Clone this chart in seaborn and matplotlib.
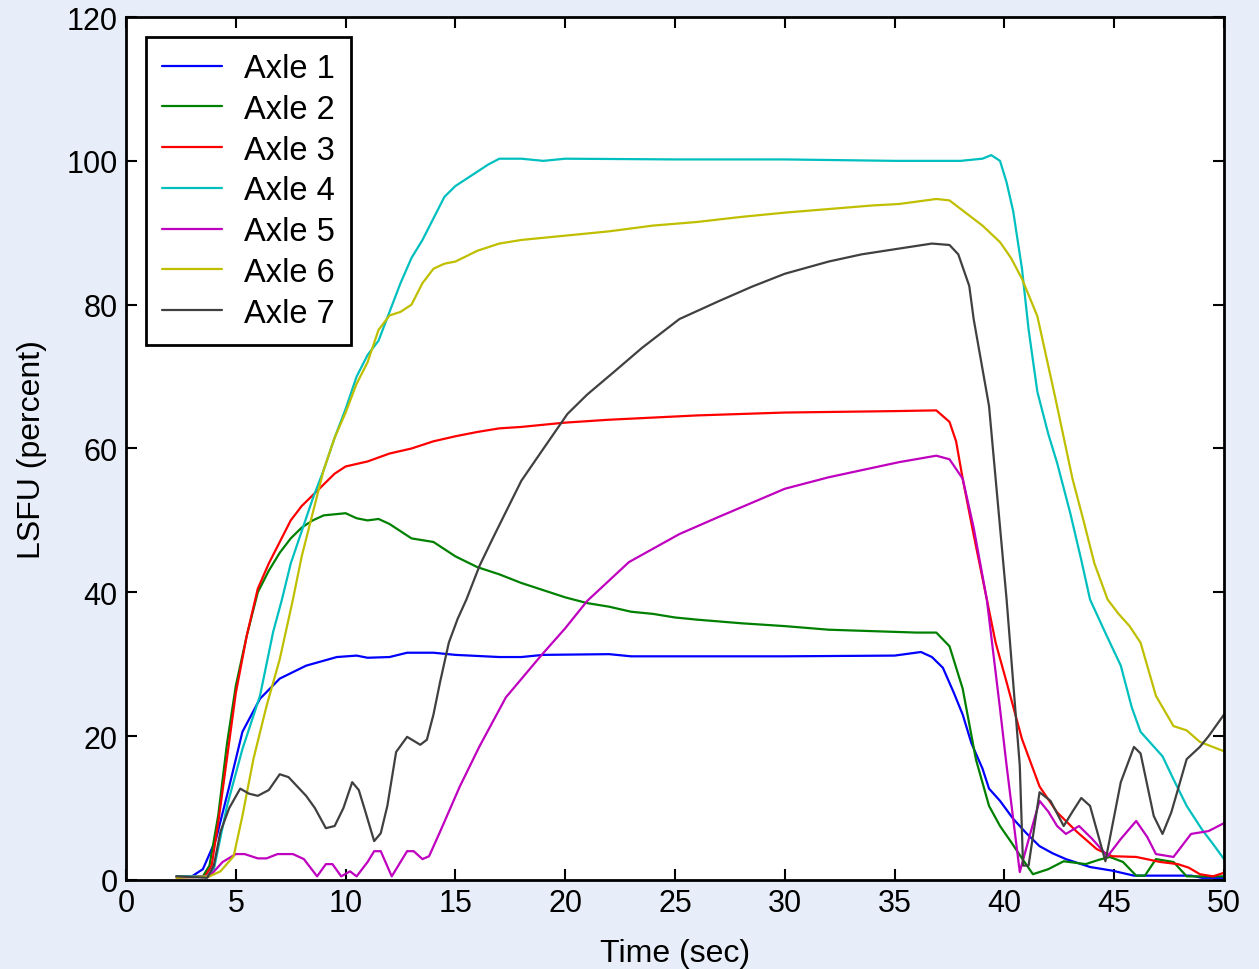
import pandas as pd
import numpy as np
import matplotlib
matplotlib.use("Agg")
import matplotlib.pyplot as plt
import seaborn as sns

# Axle LSFU traces
t1 = [2.3, 3.0, 3.5, 4.1, 4.7, 5.3, 6.1, 7.0, 8.2, 9.6, 10.5, 11.0, 12.0, 12.8, 14.0, 15.0, 17.0, 18.0, 19.0, 22.0, 23.0, 28.0, 30.0, 35.0, 36.2,
      36.7, 37.2, 37.7, 38.1, 38.5, 39.0, 39.3, 39.8, 40.4, 41.0, 41.6, 42.2, 42.8, 43.9, 44.9, 45.9, 47.0, 48.5, 49.0, 50.0]
v1 = [0.5, 0.5, 1.5, 5.7, 13, 20.6, 25.2, 28, 29.8, 31, 31.2, 30.9, 31.0, 31.6, 31.6, 31.3, 31.0, 31.0, 31.3, 31.4, 31.1, 31.1, 31.1, 31.2, 31.7,
      31.0, 29.5, 26, 23, 19, 15.5, 12.7, 11, 8.5, 6.5, 4.7, 3.7, 2.9, 1.8, 1.3, 0.6, 0.6, 0.6, 0.3, 0.3]

t2 = [2.3, 3.5, 3.8, 4.2, 4.6, 5.0, 5.5, 6.0, 6.5, 7.0, 7.5, 8.0, 8.5, 9.0, 10.0, 10.5, 11.0, 11.5, 12.0, 12.5, 13.0, 14.0, 15.0, 16.0,
      17.0, 18.0, 19.0, 20.0, 21.0, 22.0, 23.0, 24.0, 25.0, 26.0, 28.0, 30.0, 32.0, 34.0, 36.0, 36.9, 37.5, 38.1, 38.7, 39.3, 39.8, 40.3,
      40.8, 41.3, 42.0, 42.7, 43.7, 44.3, 44.8, 45.4, 46.0, 46.4, 46.9, 47.7, 48.3, 50.0]
v2 = [0.5, 0.5, 2, 9, 19, 27, 34, 40, 43, 45.5, 47.5, 49, 50, 50.7, 51, 50.3, 50, 50.2, 49.5, 48.5, 47.5, 47, 45, 43.5,
      42.5, 41.3, 40.3, 39.3, 38.5, 38, 37.3, 37, 36.5, 36.2, 35.7, 35.3, 34.8, 34.6, 34.4, 34.4, 32.5, 26.6, 16.8, 10.3, 7.5, 5.3,
      3, 0.8, 1.5, 2.6, 2.2, 2.8, 3.2, 2.5, 0.6, 0.6, 2.9, 2.5, 0.5, 0.5]

t3 = [2.3, 3.6, 3.9, 4.2, 4.6, 5.0, 5.5, 6.0, 6.5, 7.0, 7.5, 8.0, 8.5, 9.0, 9.5, 10.0, 11.0, 12.0, 13.0, 14.0, 15.0, 16.0, 17.0, 18.0,
      19.0, 20.0, 21.0, 22.0, 24.0, 26.0, 28.0, 30.0, 35.0, 36.9, 37.5, 37.8, 38.1, 38.6, 39.2, 39.6, 40.1, 40.8, 41.6, 42.4, 43.3, 44.2,
      44.9, 46.0, 47.1, 47.9, 48.4, 48.9, 49.5, 50.0]
v3 = [0.5, 0.5, 2, 8, 17, 26, 34, 40.5, 44, 47, 50, 52, 53.5, 55, 56.5, 57.5, 58.2, 59.3, 60, 61, 61.7, 62.3, 62.8, 63,
      63.3, 63.6, 63.8, 64, 64.3, 64.6, 64.8, 65, 65.2, 65.3, 63.7, 61, 55.8, 48, 39, 33, 27.5, 19.6, 13, 9.4, 6.7, 4.3,
      3.3, 3.2, 2.5, 2.2, 1.7, 0.8, 0.5, 1.0]

t4 = [2.3, 3.7, 4.0, 4.6, 5.3, 6.1, 6.7, 7.1, 7.5, 8.0, 8.5, 9.0, 9.5, 10.0, 10.5, 11.0, 11.5, 12.0, 12.5, 13.0, 13.5, 14.0, 14.5, 15.0,
      15.5, 16.0, 16.5, 17.0, 18.0, 19.0, 20.0, 25.0, 30.0, 35.0, 38.0, 39.0, 39.4, 39.8, 40.1, 40.4, 40.8, 41.1, 41.5, 42.0, 42.4, 43.0,
      43.5, 43.9, 44.5, 45.3, 45.8, 46.2, 47.2, 47.7, 48.3, 49.0, 49.5, 50.0]
v4 = [0.5, 0.5, 1.5, 10.3, 18.2, 25.6, 34.5, 39, 44, 48.5, 53, 57, 61.5, 65.5, 70, 73, 75, 79, 83, 86.5, 89, 92, 95, 96.5,
      97.5, 98.5, 99.5, 100.3, 100.3, 100, 100.3, 100.2, 100.2, 100, 100, 100.3, 100.8, 100, 97, 93, 85, 76.6, 67.9, 62, 58, 51,
      44.5, 39, 35, 29.8, 24, 20.6, 17.2, 14, 10.3, 7, 5, 2.9]

t5 = [2.3, 3.8, 4.4, 5.0, 5.4, 6.0, 6.4, 6.9, 7.6, 8.1, 8.7, 9.1, 9.4, 9.8, 10.2, 10.5, 11.0, 11.3, 11.6, 12.1, 12.8, 13.1, 13.5, 13.8,
      14.3, 15.2, 16.1, 17.3, 18.9, 20.0, 21.0, 22.9, 25.2, 27.0, 30.0, 32.0, 35.2, 36.9, 37.5, 38.1, 38.6, 39.2, 39.8, 40.1, 40.7, 41.2,
      41.6, 42.0, 42.4, 42.8, 43.4, 44.0, 44.7, 45.3, 46.0, 46.5, 46.9, 47.7, 48.5, 49.3, 50.0]
v5 = [0.3, 0.5, 2.5, 3.6, 3.6, 3.0, 3.0, 3.6, 3.6, 2.9, 0.5, 2.2, 2.2, 0.5, 1.2, 0.5, 2.5, 4.0, 4.0, 0.5, 4.0, 4.0, 2.9, 3.3,
      6.7, 13, 18.6, 25.4, 31.2, 35, 38.8, 44.2, 48.1, 50.5, 54.4, 56, 58.1, 59, 58.5, 55.8, 49, 39, 23.8, 15.9, 1.1, 6.7,
      11, 9.5, 7.5, 6.4, 7.5, 5.7, 3.3, 5.7, 8.2, 6, 3.6, 3.2, 6.4, 6.8, 7.9]

t6 = [2.3, 3.8, 4.3, 4.9, 5.3, 5.8, 6.4, 7.0, 7.6, 8.0, 8.5, 9.0, 9.5, 10.0, 10.5, 11.0, 11.5, 12.0, 12.5, 13.0, 13.5, 14.0, 14.5, 15.0,
      16.0, 17.0, 18.0, 20.0, 22.0, 24.0, 26.0, 28.0, 30.0, 32.0, 34.0, 35.2, 36.9, 37.5, 38.4, 39.0, 39.8, 40.3, 40.8, 41.5, 42.3, 43.1,
      43.6, 44.1, 44.7, 45.2, 45.7, 46.2, 46.9, 47.7, 48.3, 48.9, 50.0]
v6 = [0.3, 0.5, 1.2, 3.3, 8.9, 16.8, 24.2, 30.7, 39, 45, 51, 57, 61.5, 65, 69, 72, 76.5, 78.5, 79, 80, 83, 85, 85.7, 86,
      87.5, 88.5, 89, 89.6, 90.2, 91, 91.5, 92.2, 92.8, 93.3, 93.8, 94, 94.7, 94.5, 92.4, 91, 88.7, 86.5, 83.6, 78.4, 67.3, 55.8,
      50, 44, 39, 37, 35.3, 33, 25.6, 21.4, 20.8, 19.2, 17.9]

t7 = [2.3, 3.7, 4.0, 4.3, 4.7, 5.2, 5.6, 6.0, 6.5, 7.0, 7.4, 7.8, 8.2, 8.6, 9.1, 9.5, 9.9, 10.3, 10.6, 10.9, 11.3, 11.6, 11.9, 12.3,
      12.8, 13.4, 13.7, 14.0, 14.3, 14.7, 15.1, 15.5, 16.1, 16.7, 17.3, 18.0, 18.9, 20.1, 21.0, 22.2, 23.5, 25.2, 27.0, 28.5, 30.0, 32.0,
      33.5, 35.2, 36.7, 37.5, 37.9, 38.4, 38.6, 39.3, 39.6, 40.1, 40.7, 40.85, 41.1, 41.6, 42.1, 42.7, 43.1, 43.5, 43.9, 44.6, 45.3, 45.9,
      46.2, 46.8, 47.2, 47.6, 48.3, 48.9, 49.3, 50.0]
v7 = [0.5, 0.3, 2, 6.7, 10, 12.7, 12, 11.7, 12.5, 14.7, 14.3, 13, 11.7, 10, 7.2, 7.5, 10, 13.6, 12.5, 9.5, 5.4, 6.5, 10.3, 17.8,
      19.9, 18.8, 19.5, 23, 27.5, 33, 36.3, 39, 43.7, 47.5, 51.2, 55.5, 59.5, 64.8, 67.5, 70.6, 74, 78, 80.5, 82.5, 84.3, 86,
      87, 87.8, 88.5, 88.3, 87, 82.6, 78, 65.9, 55.8, 39, 15.9, 2, 2, 12.2, 11, 7.5, 9.5, 11.4, 10.3, 2.6, 13.6, 18.5,
      17.6, 8.9, 6.4, 9.4, 16.8, 18.5, 20, 23]

axles = ["Axle 1", "Axle 2", "Axle 3", "Axle 4", "Axle 5", "Axle 6", "Axle 7"]
times = [t1, t2, t3, t4, t5, t6, t7]
values = [v1, v2, v3, v4, v5, v6, v7]
colors = ["#0000ff", "#008000", "#ff0000", "#00bfbf", "#bf00bf", "#bfbf00", "#404040"]

frames = []
for name, t, v in zip(axles, times, values):
    frames.append(pd.DataFrame({"time": t, "lsfu": v, "axle": name}))
df = pd.concat(frames, ignore_index=True)

sns.set_style("ticks")
plt.rcParams["font.family"] = ["Liberation Sans", "DejaVu Sans"]
plt.rcParams["text.color"] = "black"
plt.rcParams["axes.labelcolor"] = "black"

bg = "#e8eef9"
fig = plt.figure(figsize=(12.59, 9.70), dpi=100, facecolor=bg)
ax = fig.add_axes([0.1001, 0.0918, 0.8721, 0.8896])
ax.set_facecolor("white")

sns.lineplot(data=df, x="time", y="lsfu", hue="axle", palette=dict(zip(axles, colors)),
             estimator=None, sort=False, linewidth=1.6, ax=ax)

ax.set_xlim(0, 50)
ax.set_ylim(0, 120)
ax.set_xticks(np.arange(0, 51, 5))
ax.set_yticks(np.arange(0, 121, 20))
ax.tick_params(direction="in", top=True, right=True, length=8, width=1.5,
               labelsize=22, colors="black", pad=6)
for s in ax.spines.values():
    s.set_linewidth(2)
    s.set_color("black")

ax.set_xlabel("Time (sec)", fontsize=23, labelpad=14, color="black")
ax.set_ylabel("LSFU (percent)", fontsize=23, labelpad=14, color="black")

handles, labels = ax.get_legend_handles_labels()
leg = ax.legend(handles, labels, loc="upper left", fontsize=23.5, frameon=True, fancybox=False,
                edgecolor="black", framealpha=1, handlelength=1.85, handletextpad=0.65,
                labelspacing=0.3, borderaxespad=0.6, borderpad=0.5)
leg.get_frame().set_linewidth(2)
for txt in leg.get_texts():
    txt.set_color("black")

fig.savefig("out.png", dpi=100, facecolor=bg)
